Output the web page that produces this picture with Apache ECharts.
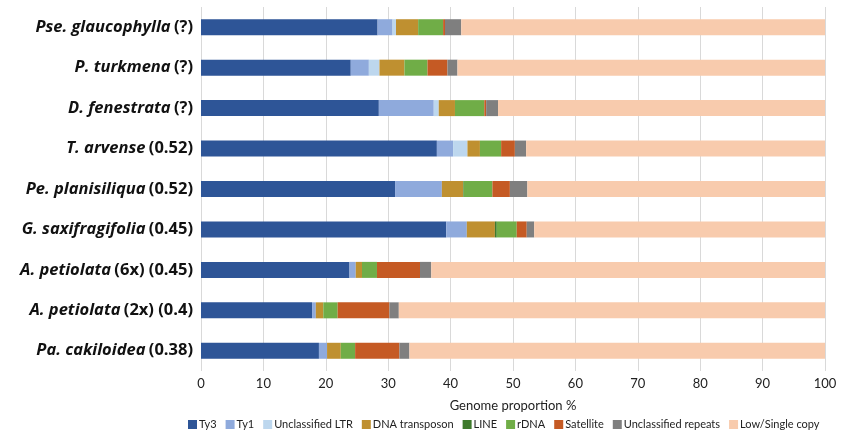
<!DOCTYPE html>
<html>
<head>
<meta charset="utf-8">
<script src="https://cdn.jsdelivr.net/npm/echarts@6/dist/echarts.min.js"></script>
<style>
  html, body { margin: 0; padding: 0; background: #fff; }
  #chart { width: 848px; height: 436px; }
</style>
</head>
<body>
<div id="chart"></div>
<script>
// Species (top to bottom) with genome size in brackets
const species = [
  ['Pse. glaucophylla', '(?)'],
  ['P. turkmena', '(?)'],
  ['D. fenestrata', '(?)'],
  ['T. arvense', '(0.52)'],
  ['Pe. planisiliqua', '(0.52)'],
  ['G. saxifragifolia', '(0.45)'],
  ['A. petiolata', '(6x) (0.45)'],
  ['A. petiolata', '(2x) (0.4)'],
  ['Pa. cakiloidea', '(0.38)']
];

const xTicks = [0, 10, 20, 30, 40, 50, 60, 70, 80, 90, 100];

// Genome proportion (%) per repeat class, same order as species
const ty3        = [28.3, 24.0, 28.5, 37.8, 31.1, 39.3, 23.8, 17.8, 18.9];
const ty1        = [2.4, 2.9, 8.8, 2.6, 7.5, 3.3, 1.0, 0.6, 1.3];
const unclLTR    = [0.55, 1.7, 0.8, 2.3, 0, 0, 0, 0, 0];
const dnaTransp  = [3.55, 4.0, 2.6, 2.0, 3.4, 4.5, 1.0, 1.2, 2.2];
const line       = [0, 0, 0, 0, 0.1, 0.3, 0, 0, 0];
const rDNA       = [4.0, 3.7, 4.7, 3.4, 4.6, 3.2, 2.4, 2.3, 2.3];
const satellite  = [0.3, 3.2, 0.3, 2.2, 2.8, 1.6, 6.9, 8.3, 7.1];
const unclRep    = [2.6, 1.6, 1.9, 1.8, 2.8, 1.2, 1.8, 1.5, 1.6];
const lowSingle  = [58.3, 58.9, 52.4, 47.9, 47.7, 46.6, 63.1, 68.3, 66.6];

const seriesDefs = [
  ['Ty3', ty3, '#2E5597'],
  ['Ty1', ty1, '#8FAADC'],
  ['Unclassified LTR', unclLTR, '#BDD7EE'],
  ['DNA transposon', dnaTransp, '#BF9030'],
  ['LINE', line, '#3E7A2C'],
  ['rDNA', rDNA, '#70AD47'],
  ['Satellite', satellite, '#C55A24'],
  ['Unclassified repeats', unclRep, '#7F7F7F'],
  ['Low/Single copy', lowSingle, '#F8CBAD']
];

const chart = echarts.init(document.getElementById('chart'), null, { renderer: 'canvas' });

const FONT = 'Lato, "Open Sans", sans-serif';
const LABEL_FONT = '"Open Sans", Lato, sans-serif';

chart.setOption({
  animation: false,
  backgroundColor: '#ffffff',
  grid: { left: 201, right: 23, top: 7, bottom: 65, containLabel: false },
  legend: {
    bottom: 1,
    left: 183,
    itemWidth: 9,
    itemHeight: 9,
    itemGap: 9,
    icon: 'rect',
    textStyle: { fontFamily: FONT, fontSize: 11, color: '#222', padding: [0, 0, 0, -3] },
    data: seriesDefs.map(d => d[0])
  },
  xAxis: {
    type: 'value',
    min: 0,
    max: 100,
    interval: 10,
    name: 'Genome proportion %',
    nameLocation: 'middle',
    nameGap: 28,
    nameTextStyle: { fontFamily: FONT, fontSize: 13, color: '#222' },
    axisLine: { show: false },
    axisTick: { show: false },
    axisLabel: {
      fontFamily: FONT, fontSize: 13, color: '#222', margin: 6,
      formatter: v => xTicks.includes(v) ? String(v) : ''
    },
    splitLine: { show: true, lineStyle: { color: '#D9D9D9', width: 1 } }
  },
  yAxis: {
    type: 'category',
    inverse: true,
    data: species.map(s => s[0] + '|' + s[1]),
    axisLine: { show: false },
    axisTick: { show: false },
    splitLine: { show: false },
    axisLabel: {
      margin: 8,
      formatter: v => {
        const [name, rest] = v.split('|');
        return '{n|' + name + '} {r|' + rest + '}';
      },
      rich: {
        n: { fontFamily: LABEL_FONT, fontSize: 16.5, fontWeight: 'bold', fontStyle: 'italic', color: '#111' },
        r: { fontFamily: LABEL_FONT, fontSize: 16.5, fontWeight: 'bold', color: '#111' }
      }
    }
  },
  series: seriesDefs.map(([name, values, color]) => ({
    name,
    type: 'bar',
    stack: 'total',
    barWidth: 16,
    itemStyle: { color },
    emphasis: { disabled: true },
    data: values
  }))
});
</script>
</body>
</html>
